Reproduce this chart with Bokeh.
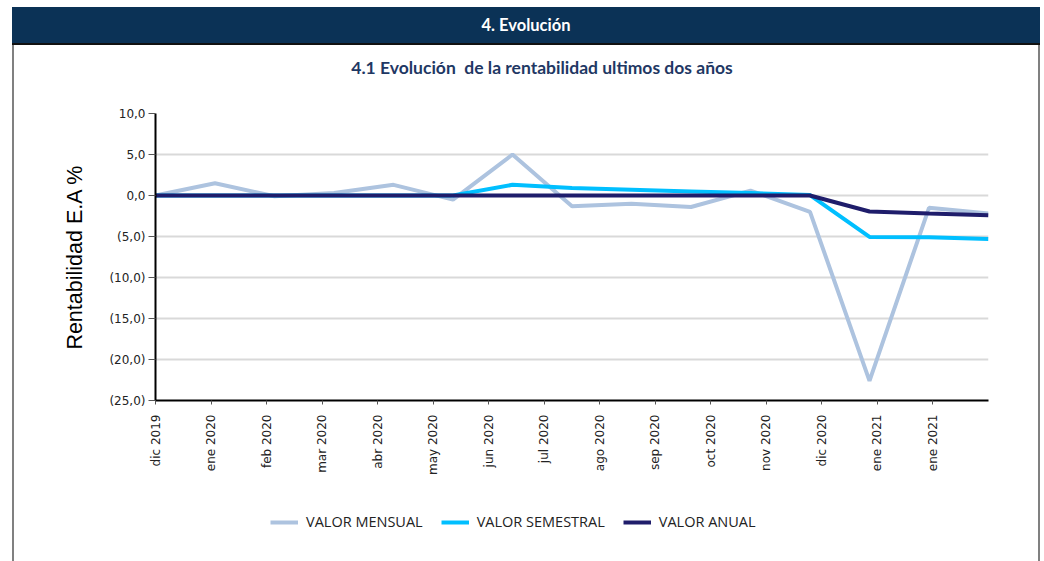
import math
from bokeh.plotting import figure
from bokeh.models import FixedTicker, Legend, LegendItem, Range1d, Div, Spacer
from bokeh.layouts import column, row
from bokeh.embed import file_html
from bokeh.resources import INLINE

# ---------------- data ----------------
months = ["dic 2019", "ene 2020", "feb 2020", "mar 2020", "abr 2020", "may 2020",
          "jun 2020", "jul 2020", "ago 2020", "sep 2020", "oct 2020", "nov 2020",
          "dic 2020", "ene 2021", "ene 2021"]
mensual = [0.0, 1.5, -0.1, 0.3, 1.3, -0.5, 5.0, -1.3, -1.0, -1.4, 0.6, -2.0, -22.6, -1.5, -2.2]
semestral = [0.0, 0.0, 0.0, 0.0, 0.0, 0.0, 1.3, 0.9, 0.7, 0.5, 0.3, 0.05, -5.05, -5.1, -5.3]
anual = [0.0, 0.0, 0.0, 0.0, 0.0, 0.0, 0.0, 0.0, 0.0, 0.0, 0.0, 0.0, -1.95, -2.2, -2.4]
y_ticks = [10, 5, 0, -5, -10, -15, -20, -25]
y_tick_labels = ["10,0", "5,0", "0,0", "(5,0)", "(10,0)", "(15,0)", "(20,0)", "(25,0)"]
series_names = ["VALOR MENSUAL", "VALOR SEMESTRAL", "VALOR ANUAL"]
colors = ["#adc3df", "#00bfff", "#1f1d6b"]
header_text = "4. Evolución"
subtitle_text = "4.1 Evolución  de la rentabilidad ultimos dos años"

n = len(mensual)
n_ticks = len(months)
# points spread across the full axis (Excel-like date axis)
xs = [i * n_ticks / (n - 1) for i in range(n)]
series = [mensual, semestral, anual]

p = figure(width=1024, height=410, x_range=Range1d(0, n_ticks), y_range=Range1d(-25, 10),
           min_border_left=141, min_border_right=50, min_border_top=23, min_border_bottom=100,
           output_backend="svg", toolbar_location=None, margin=0)
p.outline_line_color = None
p.background_fill_color = "white"
p.border_fill_color = "white"

# grid
p.xgrid.visible = False
p.ygrid.ticker = FixedTicker(ticks=y_ticks)
p.ygrid.grid_line_color = "#d9d9d9"
p.ygrid.grid_line_width = 2

# y axis
p.yaxis.ticker = FixedTicker(ticks=y_ticks)
p.yaxis.major_label_overrides = dict(zip(y_ticks, y_tick_labels))
p.yaxis.axis_line_color = "black"
p.yaxis.axis_line_width = 2
p.yaxis.major_tick_out = 7
p.yaxis.major_tick_in = 0
p.yaxis.major_tick_line_color = "#555555"
p.yaxis.minor_tick_line_color = None
p.yaxis.major_label_standoff = 3
p.yaxis.major_label_text_font = "DejaVu Sans"
p.yaxis.major_label_text_font_size = "12px"
p.yaxis.major_label_text_color = "#222222"
p.yaxis.axis_label = "Rentabilidad E.A %"
p.yaxis.axis_label_text_font = "Liberation Sans"
p.yaxis.axis_label_text_font_style = "normal"
p.yaxis.axis_label_text_font_size = "21.5px"
p.yaxis.axis_label_text_color = "black"
p.yaxis.axis_label_standoff = 19

# x axis
tick_pos = list(range(n_ticks))
p.xaxis.ticker = FixedTicker(ticks=tick_pos)
p.xaxis.major_label_overrides = dict(zip(tick_pos, months))
p.xaxis.major_label_orientation = math.pi / 2
p.xaxis.axis_line_color = "black"
p.xaxis.axis_line_width = 2
p.xaxis.major_tick_out = 4
p.xaxis.major_tick_in = 0
p.xaxis.major_tick_line_color = "#555555"
p.xaxis.minor_tick_line_color = None
p.xaxis.major_label_standoff = 10
p.xaxis.major_label_text_font = "DejaVu Sans"
p.xaxis.major_label_text_font_size = "12px"
p.xaxis.major_label_text_color = "#222222"

# lines
for vals, c in zip(series, colors):
    p.line(xs, vals, line_color=c, line_width=4)

# legend strip: same series, ranges chosen so only the legend shows
lg = figure(width=1024, height=61, x_range=Range1d(-20, -19), y_range=Range1d(-20, -19),
            x_axis_type=None, y_axis_type=None, min_border=0,
            output_backend="svg", toolbar_location=None, margin=0)
lg.outline_line_color = None
lg.xgrid.visible = False
lg.ygrid.visible = False
items = []
for name, vals, c in zip(series_names, series, colors):
    r = lg.line(xs, vals, line_color=c, line_width=4)
    items.append(LegendItem(label=name, renderers=[r]))
legend = Legend(items=items, orientation="horizontal", location=(115, 30),
                padding=0, margin=0, border_line_alpha=0, background_fill_alpha=0,
                glyph_width=28, glyph_height=18, label_standoff=8, spacing=18,
                label_text_font="Open Sans", label_text_font_size="14.5px",
                label_text_color="#222222")
lg.add_layout(legend)

# page decoration: header bar, subtitle and box borders
header = Div(text=header_text, width=1028, height=36, margin=0,
             styles={"background-color": "#0b3256", "color": "white", "text-align": "center",
                     "line-height": "36px", "font-family": "Lato", "font-weight": "bold",
                     "font-size": "16.5px"})
header_line = Div(text="", width=1028, height=2, margin=0, styles={"background-color": "#111111"})
subtitle = Div(text=subtitle_text, width=1024, height=45, margin=0,
               styles={"background-color": "white", "color": "#1f3864", "text-align": "center",
                       "line-height": "45px", "font-family": "Lato", "font-weight": "bold",
                       "font-size": "17.5px", "white-space": "pre", "text-indent": "32px"})
left_line = Div(text="", width=2, height=516, margin=0, styles={"background-color": "#808080"})
right_line = Div(text="", width=2, height=516, margin=0, styles={"background-color": "#808080"})

layout = column(
    Spacer(width=1044, height=7, margin=0),
    row(Spacer(width=12, height=36, margin=0), header, margin=0, spacing=0),
    row(Spacer(width=12, height=2, margin=0), header_line, margin=0, spacing=0),
    row(Spacer(width=12, height=516, margin=0), left_line,
        column(subtitle, p, lg, margin=0, spacing=0), right_line, margin=0, spacing=0),
    margin=0, spacing=0)

open("out.html", "w").write(file_html(layout, INLINE))
